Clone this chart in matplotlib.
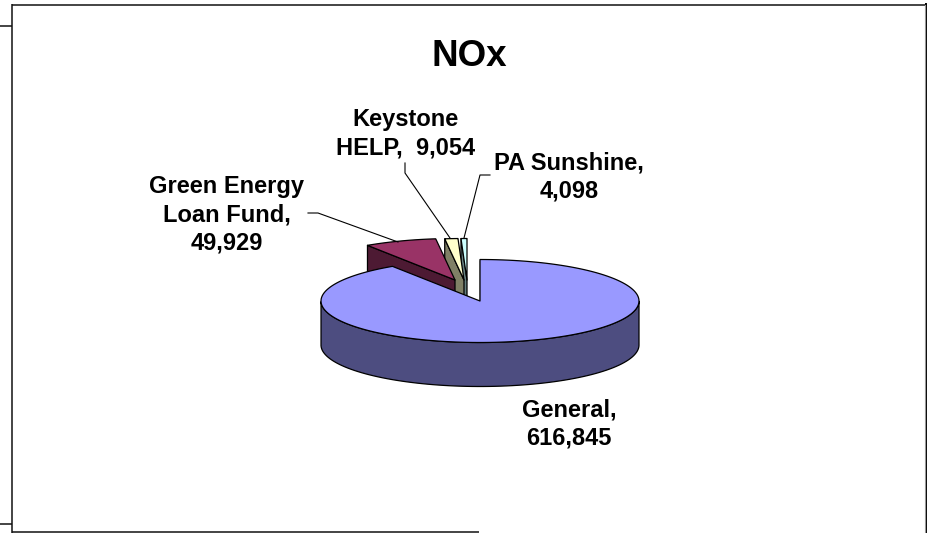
import numpy as np
import matplotlib
matplotlib.use("Agg")
import matplotlib.pyplot as plt
from matplotlib.patches import Polygon

plt.rcParams['font.family'] = ['Liberation Sans', 'DejaVu Sans']

# data
categories = ["General", "Green Energy Loan Fund", "Keystone HELP", "PA Sunshine"]
values = [616845, 49929, 9054, 4098]
value_labels = ["616,845", "49,929", "9,054", "4,098"]
title = "NOx"

# styles / layout
top_colors = ["#9999FF", "#993366", "#FFFFCC", "#CCFFFF"]
side_colors = ["#4D4D80", "#4D1A33", "#808066", "#668080"]
CX, CY, RX, RY, DEPTH = 480, 301, 159, 41.5, 44
OFFSETS = [(0, 0), (-25, -21), (-16, -21), (-13, -21)]

fig = plt.figure(figsize=(9.28, 5.33), dpi=100)
ax = fig.add_axes([0, 0, 1, 1])
ax.set_xlim(0, 928)
ax.set_ylim(533, 0)
ax.axis("off")

EDGE = dict(edgecolor="black", linewidth=0.9, joinstyle="round")


def rim(t0, t1, dx, dy):
    t = np.radians(np.linspace(t0, t1, 160))
    return np.column_stack([CX + dx + RX * np.sin(t), CY + dy - RY * np.cos(t)])


def draw_slice(t0, t1, off, top, side, z):
    dx, dy = off
    apex = np.array([CX + dx, CY + dy])
    arc = rim(t0, t1, dx, dy)
    down = np.array([0, DEPTH])
    # radial cut face on the leading edge
    start = arc[0]
    ax.add_patch(Polygon([apex, start, start + down, apex + down], closed=True,
                         facecolor=side, zorder=z, **EDGE))
    # outer wall, front half only
    vis = arc[arc[:, 1] >= CY + dy - 1e-6]
    if len(vis) > 1:
        ax.add_patch(Polygon(np.vstack([vis, (vis + down)[::-1]]), closed=True,
                             facecolor=side, zorder=z, **EDGE))
    ax.add_patch(Polygon(np.vstack([apex, arc]), closed=True,
                         facecolor=top, zorder=z + 0.5, **EDGE))


angles = np.cumsum([0] + values) / sum(values) * 360
# General is drawn last so that it covers the extruded faces of the exploded slices
for i in [3, 2, 1, 0]:
    draw_slice(angles[i], angles[i + 1], OFFSETS[i], top_colors[i], side_colors[i], 4 - i)

ax.text(469.5, 56, title, fontsize=26.5, fontweight="bold", ha="center", va="center", zorder=10)

LABEL = dict(fontsize=17, fontweight="bold", ha="center", va="center",
             linespacing=1.3, color="black", zorder=10)
ax.text(227, 215, f"Green Energy\nLoan Fund,\n{value_labels[1]}", **LABEL)
ax.text(406, 133.5, f"Keystone\nHELP,  {value_labels[2]}", **LABEL)
ax.text(569, 177, f"PA Sunshine,\n{value_labels[3]}", **LABEL)
ax.text(569, 424, f"General,\n{value_labels[0]}", **LABEL)

# leader lines
LEAD = dict(color="black", linewidth=0.8, zorder=9)
ax.plot([308, 318, 398], [213, 213, 242], **LEAD)
ax.plot([405, 405, 450], [163, 173, 238], **LEAD)
ax.plot([490, 480, 464], [175, 175, 238], **LEAD)

# surrounding frame fragments
FRAME = dict(color="#111111", linewidth=1.1, zorder=1, solid_capstyle="butt")
ax.plot([12, 926], [4.5, 4.5], **FRAME)
ax.plot([12.5, 12.5], [4, 533], **FRAME)
ax.plot([0, 12], [26, 26], **FRAME)
ax.plot([0, 12], [523.5, 523.5], **FRAME)
ax.plot([12, 479], [531.5, 531.5], **FRAME)
ax.plot([926.5, 926.5], [4, 533], color="black", linewidth=1.4, zorder=1)
ax.plot([925, 925], [5, 533], color="#999999", linewidth=0.8, zorder=1)

fig.savefig("out.png", dpi=100)
